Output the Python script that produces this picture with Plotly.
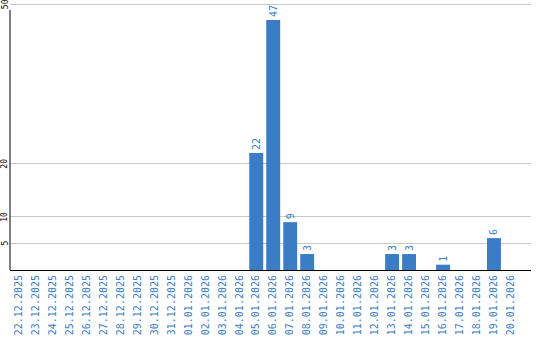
import plotly.graph_objects as go

dates = ["22.12.2025","23.12.2025","24.12.2025","25.12.2025","26.12.2025","27.12.2025",
         "28.12.2025","29.12.2025","30.12.2025","31.12.2025","01.01.2026","02.01.2026",
         "03.01.2026","04.01.2026","05.01.2026","06.01.2026","07.01.2026","08.01.2026",
         "09.01.2026","10.01.2026","11.01.2026","12.01.2026","13.01.2026","14.01.2026",
         "15.01.2026","16.01.2026","17.01.2026","18.01.2026","19.01.2026","20.01.2026"]
values = [0,0,0,0,0,0,0,0,0,0,0,0,0,0,22,47,9,3,0,0,0,0,3,3,0,1,0,0,6,0]
y_ticks = [5, 10, 20, 50]

blue = "#3b7dc4"
labels = [str(v) if v else "" for v in values]

fig = go.Figure(go.Bar(
    x=list(range(len(dates))), y=values, text=labels,
    textposition="outside", textangle=-90,
    textfont=dict(color=blue, size=10, family="DejaVu Sans Mono"),
    marker=dict(color=blue, line=dict(width=0)),
    cliponaxis=False,
))
fig.update_layout(
    width=540, height=340,
    margin=dict(l=10, r=9, t=2, b=70),
    plot_bgcolor="white", paper_bgcolor="white",
    bargap=0.18, showlegend=False,
    xaxis=dict(
        tickmode="array", tickvals=list(range(len(dates))), ticktext=dates,
        tickangle=-90, range=[-0.5, 30.18],
        tickfont=dict(color=blue, size=10, family="DejaVu Sans Mono"),
        showline=True, linecolor="black", linewidth=1, showgrid=False,
        ticks="", automargin=False,
    ),
    yaxis=dict(
        range=[0, 50.4], tickmode="array", tickvals=y_ticks,
        showticklabels=False, showline=False,
        showgrid=True, gridcolor="#c8c8c8", gridwidth=1,
        zeroline=False, ticks="", automargin=False,
    ),
)
# left axis line (starts a little below the top gridline, as in the reference)
fig.add_shape(type="line", xref="paper", yref="paper", x0=0, x1=0, y0=0, y1=0.97,
              line=dict(color="black", width=1))
for t in y_ticks:
    fig.add_annotation(
        xref="paper", x=0, xshift=-5, xanchor="center",
        yref="y", y=t, yanchor="middle",
        text=str(t), textangle=-90, showarrow=False,
        font=dict(color="black", size=8, family="DejaVu Sans Mono"),
    )
fig.write_html("out.html")
